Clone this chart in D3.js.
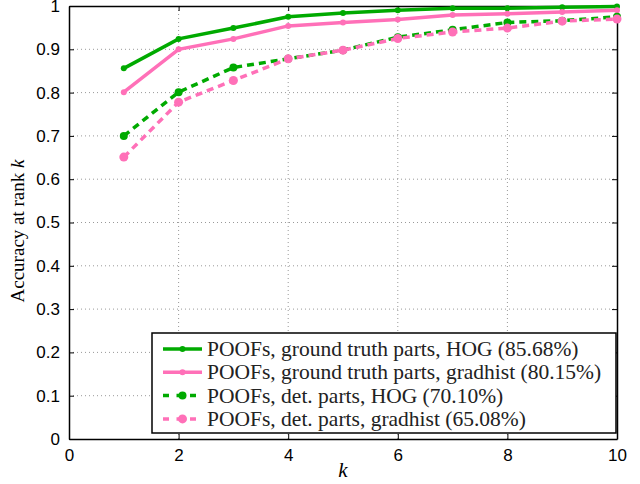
<!DOCTYPE html>
<html>
<head>
<meta charset="utf-8">
<script src="https://cdn.jsdelivr.net/npm/d3@7"></script>
<style>
  body { margin: 0; background: #fff; }
  .serif { font-family: 'Liberation Serif', 'Times New Roman', 'DejaVu Serif', serif; }
  .sans { font-family: 'Liberation Sans', Arial, Helvetica, sans-serif; }
</style>
</head>
<body>
<div id="chart"></div>
<script>
// Data
var ranks = [1, 2, 3, 4, 5, 6, 7, 8, 9, 10]
var gtHog = [0.856, 0.924, 0.949, 0.975, 0.984, 0.990, 0.995, 0.995, 0.997, 0.999]
var gtGradhist = [0.801, 0.900, 0.924, 0.954, 0.962, 0.969, 0.979, 0.982, 0.986, 0.990]
var detHog = [0.700, 0.801, 0.858, 0.878, 0.898, 0.928, 0.945, 0.962, 0.966, 0.975]
var detGradhist = [0.651, 0.778, 0.828, 0.878, 0.898, 0.925, 0.940, 0.949, 0.965, 0.970]
var seriesNames = [
  'POOFs, ground truth parts, HOG (85.68%)',
  'POOFs, ground truth parts, gradhist (80.15%)',
  'POOFs, det. parts, HOG (70.10%)',
  'POOFs, det. parts, gradhist (65.08%)'
]
var xTicks = [0, 2, 4, 6, 8, 10]
var yTicks = [0, 0.1, 0.2, 0.3, 0.4, 0.5, 0.6, 0.7, 0.8, 0.9, 1]

var green = '#00aa00'
var pink = '#ff70b8'
var series = [
  {name: seriesNames[0], values: gtHog, color: green, dash: null, r: 3},
  {name: seriesNames[1], values: gtGradhist, color: pink, dash: null, r: 3},
  {name: seriesNames[2], values: detHog, color: green, dash: '7,5', r: 4},
  {name: seriesNames[3], values: detGradhist, color: pink, dash: '7,5', r: 4.5}
]

var W = 640, H = 484
var margin = {top: 6, right: 23, bottom: 45, left: 69}
var width = W - margin.left - margin.right
var height = H - margin.top - margin.bottom

var svg = d3.select('#chart').append('svg')
    .attr('width', W)
    .attr('height', H)
  .append('g')
    .attr('transform', 'translate(' + margin.left + ',' + margin.top + ')')

var x = d3.scaleLinear().domain([0, 10]).range([0, width])
var y = d3.scaleLinear().domain([0, 1]).range([height, 0])

// Grid (dotted)
svg.selectAll('line.gx')
    .data(xTicks.slice(1, -1))
  .enter().append('line')
    .attr('x1', function(d){ return x(d) })
    .attr('x2', function(d){ return x(d) })
    .attr('y1', 0)
    .attr('y2', height)
    .style('stroke', '#999')
    .style('stroke-dasharray', '1,3')
svg.selectAll('line.gy')
    .data(yTicks.slice(1, -1))
  .enter().append('line')
    .attr('x1', 0)
    .attr('x2', width)
    .attr('y1', function(d){ return y(d) })
    .attr('y2', function(d){ return y(d) })
    .style('stroke', '#999')
    .style('stroke-dasharray', '1,3')

// Axes with inward ticks on all four sides
var fmt = function(d){ return d3.format('~g')(d) }
var axB = svg.append('g').attr('transform', 'translate(0,' + height + ')')
  .call(d3.axisBottom(x).tickValues(xTicks).tickSizeInner(-5).tickSizeOuter(0).tickPadding(10).tickFormat(fmt))
var axL = svg.append('g')
  .call(d3.axisLeft(y).tickValues(yTicks).tickSizeInner(-5).tickSizeOuter(0).tickPadding(9).tickFormat(fmt))
var axT = svg.append('g')
  .call(d3.axisTop(x).tickValues(xTicks).tickSizeInner(-5).tickSizeOuter(0).tickFormat(''))
var axR = svg.append('g').attr('transform', 'translate(' + width + ',0)')
  .call(d3.axisRight(y).tickValues(yTicks).tickSizeInner(-5).tickSizeOuter(0).tickFormat(''))
;[axB, axL, axT, axR].forEach(function(a){
  a.attr('font-family', null).attr('class', 'sans')
  a.selectAll('path').style('stroke', '#000').style('stroke-width', 1.5)
  a.selectAll('line').style('stroke', '#000')
  a.selectAll('text')
    .attr('font-size', '17px')
    .attr('fill', '#000')
})

// Lines
var line = d3.line()
  .x(function(d, i){ return x(ranks[i]) })
  .y(function(d){ return y(d) })

series.forEach(function(s){
  var g = svg.append('g')
  g.append('path')
    .datum(s.values)
    .attr('d', line)
    .style('fill', 'none')
    .style('stroke', s.color)
    .style('stroke-width', 3.5)
    .style('stroke-dasharray', s.dash)
  g.selectAll('circle')
      .data(s.values)
    .enter().append('circle')
      .attr('cx', function(d, i){ return x(ranks[i]) })
      .attr('cy', function(d){ return y(d) })
      .attr('r', s.r)
      .style('fill', s.color)
})

// Axis labels
svg.append('text')
    .attr('class', 'serif')
    .attr('x', x(5))
    .attr('y', height + 38)
    .text('k')
    .style('text-anchor', 'middle')
    .attr('font-style', 'italic')
    .attr('font-size', '21px')
svg.append('text')
    .attr('class', 'serif')
    .attr('transform', 'translate(' + (-45) + ',' + (225) + ') rotate(-90)')
    .style('text-anchor', 'middle')
    .attr('font-size', '19px')
    .call(function(t){
      t.append('tspan').text('Accuracy at rank ')
      t.append('tspan').attr('font-style', 'italic').text('k')
    })

// Legend
var lg = svg.append('g').attr('transform', 'translate(' + (152 - margin.left) + ',' + (333 - margin.top) + ')')
lg.append('rect')
    .attr('width', 464)
    .attr('height', 100)
    .style('fill', '#fff')
    .style('stroke', '#000')
    .style('stroke-width', 1.5)
series.forEach(function(s, i){
  var yy = 16 + i * 23.3
  lg.append('line')
    .attr('x1', 11)
    .attr('x2', 50)
    .attr('y1', yy)
    .attr('y2', yy)
    .style('stroke', s.color)
    .style('stroke-width', 3.5)
    .style('stroke-dasharray', s.dash ? '6,7.5' : null)
  lg.append('circle')
    .attr('cx', 30.5)
    .attr('cy', yy)
    .attr('r', s.r)
    .style('fill', s.color)
  lg.append('text')
    .attr('class', 'serif')
    .attr('x', 55)
    .attr('y', yy + 7)
    .text(s.name)
    .attr('font-size', '21.5px')
    .attr('fill', '#222')
})
</script>
</body>
</html>
